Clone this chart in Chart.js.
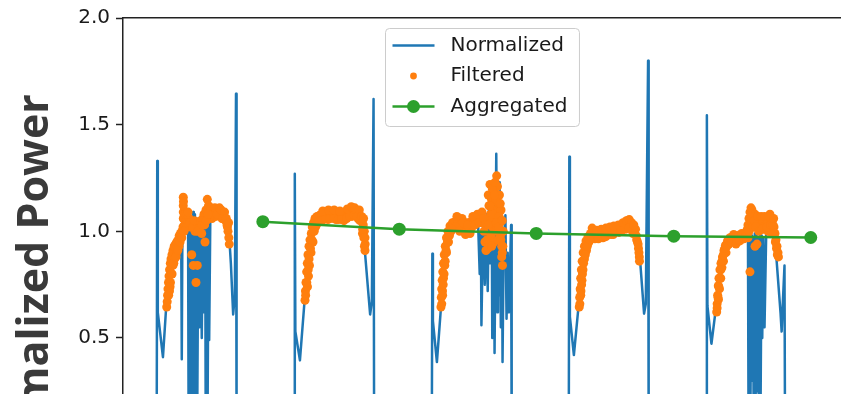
<!DOCTYPE html>
<html>
<head>
<meta charset="utf-8">
<title>Normalized Power</title>
<script src="https://cdn.jsdelivr.net/npm/chart.js@4.4.1/dist/chart.umd.min.js"></script>
<style>
  html, body { margin: 0; padding: 0; background: #fff; overflow: hidden; }
  #chart { display: block; }
</style>
</head>
<body>
<canvas id="chart" width="841" height="586"></canvas>
<script>
// Series are [hour, normalized power] pairs, one array per day.
const normalizedDay1 = [[0.0, 0.0], [5.9, 0.0], [6.0, 1.33], [6.1, 0.62], [7.0, 0.41], [7.6, 0.66], [8.2, 0.80], [8.9, 0.90], [9.6, 0.95], [10.2, 0.97], [10.3, 0.40], [10.4, 0.98], [11.0, 1.02],
  [11.4, 1.06], [11.5, 0.05], [11.7, 1.08], [11.8, 0.10], [12.0, 1.07], [12.1, 0.0], [12.3, 1.09], [12.4, 0.20], [12.6, 1.08], [12.7, 0.08], [12.9, 1.06], [13.0, 0.10], [13.2, 1.05], [13.4, 0.55], [13.6, 1.02], [13.8, 0.50], [14.0, 1.04], [14.2, 0.62], [14.4, 1.08], [14.5, 0.0], [14.7, 1.10], [14.8, 0.05], [15.0, 1.08], [15.1, 0.49], [15.3, 1.07],
  [16.0, 1.08], [17.0, 1.07], [18.0, 1.05], [18.6, 0.98], [18.9, 0.85], [19.3, 0.61], [19.6, 0.70], [19.8, 1.645], [19.9, 0.0]];
const normalizedDay2 = [[30.0, 0.0], [30.1, 1.27], [30.2, 0.53], [31.0, 0.395], [31.8, 0.67], [32.4, 0.85], [33.1, 0.98], [34.2, 1.05], [36.3, 1.07], [38.9, 1.07], [40.6, 1.08], [41.9, 1.02], [42.4, 0.90], [43.3, 0.61], [43.6, 0.67], [43.9, 1.62], [44.0, 0.0]];
const normalizedDay3 = [[54.1, 0.0], [54.2, 0.895], [54.3, 0.58], [55.0, 0.387], [55.7, 0.64], [56.4, 0.85], [56.9, 0.97], [58.1, 1.03], [59.9, 1.0], [61.1, 1.03],
  [62.2, 1.05], [62.5, 0.80], [62.7, 1.0], [62.8, 0.56], [63.1, 1.05], [63.4, 0.75], [63.7, 1.08], [63.9, 0.72], [64.1, 1.10], [64.3, 0.85], [64.6, 1.15], [64.7, 0.50], [65.0, 1.2], [65.1, 0.43], [65.4, 1.364], [65.6, 0.62], [65.7, 1.15], [65.9, 0.70], [66.0, 1.23], [66.2, 0.55], [66.4, 1.0], [66.5, 0.387], [66.7, 0.95], [67.0, 1.075], [67.2, 0.59], [67.4, 0.9], [67.6, 0.62], [68.0, 1.03], [68.1, 0.0]];
const normalizedDay4 = [[78.1, 0.0], [78.2, 1.35], [78.3, 0.60], [79.0, 0.42], [79.8, 0.645], [80.6, 0.88], [81.8, 0.98], [83.6, 0.98], [86.2, 1.0], [88.5, 1.03], [89.9, 0.98], [90.6, 0.864], [91.3, 0.614], [91.6, 0.66], [92.0, 1.80], [92.1, 0.0]];
const normalizedDay5 = [[102.2, 0.0], [102.3, 1.544], [102.4, 0.65], [103.1, 0.473], [103.8, 0.622], [104.6, 0.82], [105.6, 0.93], [107.2, 0.96], [109.0, 0.98],
  [109.5, 0.98], [109.6, 0.10], [109.8, 1.0], [109.9, 0.0], [110.1, 0.98], [110.2, 0.30], [110.4, 0.97], [110.5, 0.05], [110.7, 0.99], [110.8, 0.0], [111.0, 0.98], [111.1, 0.25], [111.3, 0.97], [111.4, 0.0], [111.6, 0.99], [111.7, 0.15], [111.9, 0.98], [112.0, 0.50], [112.2, 0.97], [112.4, 0.55], [112.7, 1.0],
  [113.4, 1.02], [114.2, 0.96], [114.5, 0.87], [115.2, 0.62], [115.4, 0.53], [115.6, 0.66], [115.9, 0.84], [116.0, 0.0], [125.8, 0.0]];

const filteredDay1 = [[7.66, 0.645], [7.74, 0.67], [7.81, 0.70], [7.88, 0.73], [7.97, 0.76], [8.06, 0.79], [8.16, 0.82], [8.29, 0.85], [8.41, 0.87], [8.58, 0.89], [8.76, 0.91], [8.97, 0.93], [9.20, 0.94], [9.43, 0.95], [9.64, 0.96], [9.85, 0.98], [10.07, 0.99], [10.30, 1.00], [10.51, 1.02],
  [10.56, 1.06], [10.56, 1.09], [10.56, 1.12], [10.56, 1.16], [10.77, 1.03], [11.04, 1.05], [11.30, 1.04], [11.56, 1.06], [11.83, 1.02], [12.04, 0.89], [12.32, 0.84], [12.61, 1.00], [12.79, 0.76], [13.02, 0.84], [13.23, 1.03], [13.49, 1.02], [13.79, 0.99], [14.02, 1.06], [14.19, 1.08], [14.37, 0.95], [14.54, 1.10], [14.77, 1.15], [14.98, 1.12],
  [15.24, 1.09], [15.59, 1.10], [15.94, 1.09], [16.29, 1.10], [16.64, 1.10], [16.99, 1.09], [17.34, 1.08], [17.70, 1.07], [17.96, 1.05], [18.22, 1.03], [18.40, 1.00], [18.54, 0.97], [18.62, 0.94],
  [8.15, 0.72], [8.32, 0.76], [8.50, 0.80], [8.76, 0.84], [9.02, 0.87], [9.37, 0.90], [9.81, 0.93], [10.86, 1.08], [11.21, 1.08], [15.59, 1.06], [16.29, 1.07], [17.34, 1.06],
  [8.0, 0.70], [8.25, 0.74], [8.6, 0.80], [8.9, 0.85], [9.3, 0.88], [9.6, 0.91], [10.0, 0.95], [10.3, 0.97],
  [15.4, 1.11], [15.8, 1.08], [16.1, 1.11], [16.5, 1.08], [16.9, 1.11], [17.2, 1.10], [17.5, 1.06], [17.8, 1.09], [18.1, 1.06], [18.3, 1.02], [18.5, 1.04],
  [11.1, 1.02], [11.4, 1.09], [11.7, 1.04], [12.2, 1.02], [12.5, 1.05], [13.1, 1.00], [13.6, 1.05], [13.9, 1.03], [14.3, 1.03], [14.6, 1.05], [14.9, 1.08], [10.7, 1.0], [10.6, 1.14]];
const filteredDay2 = [[31.89, 0.677], [31.97, 0.72], [32.06, 0.76], [32.18, 0.81], [32.29, 0.85], [32.41, 0.89], [32.59, 0.93], [32.76, 0.96], [32.99, 0.99], [33.16, 1.02], [33.38, 1.04], [33.64, 1.06], [33.99, 1.07], [34.43, 1.075], [34.86, 1.08], [35.39, 1.083], [35.92, 1.085], [36.44, 1.083], [36.97, 1.085], [37.49, 1.08],
  [38.02, 1.078], [38.54, 1.075], [39.07, 1.085], [39.51, 1.095], [39.95, 1.10], [40.38, 1.098], [40.82, 1.092], [41.26, 1.085], [41.61, 1.07], [41.87, 1.05], [42.10, 1.03], [42.28, 1.00], [42.40, 0.97], [42.43, 0.94], [42.40, 0.91],
  [32.32, 0.74], [32.50, 0.79], [32.67, 0.84], [32.94, 0.90], [33.29, 0.95], [33.73, 1.02], [34.51, 1.05], [35.92, 1.055], [37.32, 1.055], [38.72, 1.05], [40.12, 1.07], [41.17, 1.06], [41.96, 0.99],
  [32.0, 0.70], [32.2, 0.76], [32.45, 0.82], [32.6, 0.87], [32.85, 0.92], [33.1, 0.96], [33.5, 1.00], [33.9, 1.03],
  [34.9, 1.05], [35.6, 1.06], [36.3, 1.06], [37.0, 1.06], [37.7, 1.055], [38.3, 1.055], [39.2, 1.06], [39.7, 1.07], [40.5, 1.075], [41.0, 1.07], [41.5, 1.05],
  [35.0, 1.095], [36.0, 1.10], [37.0, 1.10], [38.0, 1.095], [39.3, 1.105], [40.0, 1.115], [40.6, 1.11], [41.4, 1.10],
  [41.8, 1.07], [42.15, 1.06], [42.2, 0.97], [42.3, 0.93], [42.0, 1.01]];
const filteredDay3 = [[55.71, 0.645], [55.77, 0.69], [55.84, 0.73], [55.92, 0.77], [56.03, 0.81], [56.15, 0.85], [56.29, 0.89], [56.47, 0.93], [56.68, 0.97], [56.94, 1.00], [57.29, 1.025], [57.73, 1.04], [58.17, 1.045], [58.69, 1.045], [59.22, 1.035], [59.74, 1.02], [60.22, 1.00], [60.62, 1.02], [60.97, 1.045], [61.41, 1.05], [61.85, 1.06], [62.28, 1.07], [62.72, 1.06],
  [63.07, 1.04], [63.25, 1.00], [63.42, 0.95], [63.60, 0.91], [63.77, 0.96], [64.00, 1.17], [64.12, 1.12], [64.30, 1.22], [64.39, 1.08], [64.56, 1.15], [64.74, 1.02], [64.91, 1.19], [65.09, 1.10], [65.26, 1.06], [65.47, 1.26], [65.61, 1.21], [65.79, 1.13], [65.96, 1.17], [66.05, 1.04], [66.14, 0.98], [66.23, 1.10], [66.35, 0.93], [66.45, 0.90], [66.35, 0.88], [66.49, 0.84], [66.63, 1.00], [63.95, 0.92], [64.47, 0.98], [65.00, 0.95],
  [55.98, 0.72], [56.15, 0.78], [56.38, 0.84], [56.68, 0.90], [57.03, 0.95], [57.47, 1.00], [58.34, 1.02], [59.39, 1.06], [60.27, 1.04], [61.14, 1.02], [62.02, 1.04], [62.55, 1.08],
  [64.2, 1.05], [64.8, 1.08], [65.3, 1.14], [65.5, 1.00], [65.9, 1.07], [66.3, 1.05], [64.6, 0.93], [65.7, 0.96],
  [55.85, 0.66], [56.0, 0.70], [56.1, 0.75], [56.25, 0.80], [56.45, 0.86], [56.6, 0.91], [56.85, 0.95], [57.2, 0.98], [57.6, 1.01],
  [58.5, 1.07], [59.0, 1.00], [59.6, 1.04], [60.0, 0.985], [60.4, 1.03], [60.8, 0.99], [61.3, 1.07], [61.7, 1.03], [62.1, 1.08], [62.4, 1.04], [62.9, 1.09], [63.2, 1.06],
  [63.5, 1.03], [64.0, 1.03], [64.3, 1.12], [64.7, 1.20], [65.1, 1.17], [65.2, 1.23], [65.4, 1.04], [65.8, 1.02], [66.1, 1.13], [66.2, 0.96], [66.45, 1.05], [66.55, 0.93]];
const filteredDay4 = [[79.94, 0.645], [80.01, 0.69], [80.10, 0.73], [80.19, 0.78], [80.31, 0.82], [80.45, 0.86], [80.63, 0.90], [80.85, 0.93], [81.12, 0.955], [81.47, 0.975], [81.91, 0.99], [82.43, 0.995], [83.04, 0.99], [83.66, 0.99], [84.27, 1.0], [84.88, 1.005], [85.50, 1.01], [86.11, 1.015], [86.72, 1.02], [87.34, 1.025], [87.95, 1.035],
  [88.39, 1.05], [88.83, 1.04], [89.26, 1.02], [89.61, 1.00], [89.93, 0.98], [90.14, 0.95], [90.32, 0.92], [90.46, 0.88], [90.49, 0.86],
  [80.24, 0.72], [80.42, 0.77], [80.59, 0.82], [80.85, 0.87], [81.21, 0.91], [81.64, 0.95], [82.69, 0.965], [84.10, 0.97], [85.50, 0.985], [86.90, 0.995], [88.13, 1.01], [89.35, 0.99],
  [80.05, 0.66], [80.2, 0.70], [80.35, 0.75], [80.5, 0.80], [80.7, 0.85], [81.0, 0.89], [81.35, 0.93], [81.8, 0.96], [82.2, 1.015],
  [83.0, 1.005], [83.8, 1.01], [84.6, 1.015], [85.3, 1.02], [86.0, 1.025], [86.8, 1.03], [87.6, 1.04], [88.2, 1.05], [88.7, 1.055], [89.1, 1.04],
  [83.3, 0.965], [84.6, 0.975], [85.9, 0.985], [87.3, 1.0], [88.6, 1.015],
  [89.8, 1.01], [90.0, 0.96], [90.25, 0.94], [90.4, 0.90], [89.5, 1.03]];
const filteredDay5 = [[104.02, 0.622], [104.10, 0.66], [104.19, 0.70], [104.30, 0.745], [104.42, 0.78], [104.59, 0.82], [104.77, 0.85], [105.03, 0.88], [105.30, 0.91], [105.56, 0.935], [105.91, 0.955], [106.35, 0.97], [106.78, 0.975], [107.22, 0.96], [107.57, 0.95], [107.92, 0.965], [108.27, 0.975], [108.62, 0.98], [108.97, 0.99],
  [109.24, 1.00], [109.50, 1.03], [109.68, 1.06], [109.85, 1.09], [110.03, 1.11], [110.20, 1.10], [110.46, 1.07], [110.73, 1.08], [110.99, 1.06], [111.25, 1.04], [111.60, 1.03], [111.95, 1.04], [112.30, 1.045], [112.65, 1.05], [113.00, 1.045], [113.35, 1.06], [113.70, 1.05],
  [114.06, 1.02], [114.23, 0.99], [114.41, 0.96], [114.58, 0.93], [114.76, 0.90], [114.84, 0.88], [109.85, 0.81], [110.73, 0.93], [111.08, 0.94],
  [104.33, 0.68], [104.51, 0.73], [104.73, 0.78], [104.94, 0.83], [105.21, 0.86], [105.65, 0.90], [106.17, 0.94], [109.50, 0.97], [110.20, 1.04], [111.60, 1.06], [112.13, 1.01], [113.00, 1.00], [113.35, 1.08], [113.70, 0.99],
  [104.1, 0.64], [104.25, 0.69], [104.4, 0.74], [104.55, 0.78], [104.75, 0.82], [104.95, 0.86], [105.2, 0.89], [105.45, 0.92], [105.8, 0.93], [106.1, 0.96], [106.6, 0.95], [107.0, 0.985], [107.4, 0.94], [107.8, 0.98], [108.1, 0.955], [108.4, 0.99], [108.8, 0.965], [109.1, 0.975],
  [109.4, 1.01], [109.7, 1.0], [110.0, 1.05], [110.1, 1.07], [110.4, 1.02], [110.6, 1.05], [110.9, 1.02], [111.2, 1.07], [111.4, 1.0], [111.8, 1.07], [112.0, 1.01], [112.4, 1.07], [112.8, 1.02], [113.2, 1.07], [113.5, 1.03], [113.9, 1.03], [114.1, 0.99], [114.3, 0.95], [114.5, 0.92], [114.65, 0.89], [114.0, 1.06]];

const aggregatedHours = [24.5, 48.4, 72.4, 96.5, 120.5];
const aggregatedValues = [1.045, 1.010, 0.990, 0.977, 0.971];

const seriesLabels = ['Normalized', 'Filtered', 'Aggregated'];
const axisTitle = 'Normalized Power';

(function () {
  'use strict';

  const COLORS = {
    normalized: '#1f77b4',
    filtered: '#ff7f0e',
    aggregated: '#2ca02c',
    axis: '#222222',
    text: '#1a1a1a'
  };

  const toPoints = function (pairs) {
    return pairs.map(function (p) { return { x: p[0], y: p[1] }; });
  };

  /**
   * Matplotlib-style legend: framed box centred at the top of the plot area.
   */
  const boxLegend = {
    id: 'boxLegend',
    afterDraw: function (chart, args, opts) {
      const ctx = chart.ctx;
      const area = chart.chartArea;
      const datasets = chart.data.datasets;

      ctx.save();
      ctx.font = opts.fontSize + 'px ' + opts.fontFamily;
      let textWidth = 0;
      datasets.forEach(function (ds) {
        textWidth = Math.max(textWidth, ctx.measureText(ds.label).width);
      });

      const width = opts.padLeft + opts.handle + opts.gap + textWidth + opts.padRight;
      const height = opts.firstRow + (datasets.length - 1) * opts.rowHeight + opts.lastGap;
      const left = Math.round(area.left + (area.right - area.left - width) / 2) + 0.5;
      const top = area.top + opts.offsetTop + 0.5;
      const r = 4;

      // Frame.
      ctx.beginPath();
      ctx.moveTo(left + r, top);
      ctx.arcTo(left + width, top, left + width, top + height, r);
      ctx.arcTo(left + width, top + height, left, top + height, r);
      ctx.arcTo(left, top + height, left, top, r);
      ctx.arcTo(left, top, left + width, top, r);
      ctx.closePath();
      ctx.fillStyle = 'rgba(255, 255, 255, 0.8)';
      ctx.fill();
      ctx.strokeStyle = '#cccccc';
      ctx.lineWidth = 1;
      ctx.stroke();

      // Entries.
      datasets.forEach(function (ds, i) {
        const y = top + opts.firstRow + i * opts.rowHeight;
        const hx = left + opts.padLeft;

        if (ds.showLine !== false) {
          ctx.beginPath();
          ctx.moveTo(hx, y);
          ctx.lineTo(hx + opts.handle, y);
          ctx.strokeStyle = ds.borderColor;
          ctx.lineWidth = ds.borderWidth;
          ctx.stroke();
        }
        if (ds.pointRadius > 0) {
          ctx.beginPath();
          ctx.arc(hx + opts.handle / 2, y, ds.legendRadius || ds.pointRadius, 0, Math.PI * 2);
          ctx.fillStyle = ds.pointBackgroundColor;
          ctx.fill();
        }

        ctx.fillStyle = COLORS.text;
        ctx.textAlign = 'left';
        ctx.textBaseline = 'middle';
        ctx.fillText(ds.label, hx + opts.handle + opts.gap, y);
      });
      ctx.restore();
    }
  };

  const normalized = [].concat(normalizedDay1, normalizedDay2, normalizedDay3, normalizedDay4, normalizedDay5);
  const filtered = [].concat(filteredDay1, filteredDay2, filteredDay3, filteredDay4, filteredDay5);
  const aggregated = aggregatedHours.map(function (h, i) { return [h, aggregatedValues[i]]; });

  const tickFont = { family: "'DejaVu Sans', sans-serif", size: 20 };

  new Chart(document.getElementById('chart'), {
    type: 'line',
    data: {
      datasets: [
        {
          label: seriesLabels[0],
          data: toPoints(normalized),
          borderColor: COLORS.normalized,
          borderWidth: 2.5,
          borderJoinStyle: 'round',
          borderCapStyle: 'round',
          pointRadius: 0,
          tension: 0,
          order: 3
        },
        {
          label: seriesLabels[1],
          data: toPoints(filtered),
          showLine: false,
          pointRadius: 4.5,
          legendRadius: 3.4,
          pointBorderWidth: 0,
          pointBackgroundColor: COLORS.filtered,
          borderColor: COLORS.filtered,
          order: 2
        },
        {
          label: seriesLabels[2],
          data: toPoints(aggregated),
          borderColor: COLORS.aggregated,
          borderWidth: 2.5,
          pointRadius: 6.5,
          pointBorderWidth: 0,
          pointBackgroundColor: COLORS.aggregated,
          tension: 0,
          order: 1
        }
      ]
    },
    options: {
      responsive: false,
      animation: false,
      events: [],
      layout: {
        autoPadding: false,
        padding: { top: 18, right: 0, bottom: 20, left: 0 }
      },
      plugins: {
        legend: { display: false },
        tooltip: { enabled: false },
        boxLegend: {
          fontSize: 20,
          fontFamily: "'DejaVu Sans', sans-serif",
          offsetTop: 10,
          padLeft: 7,
          handle: 42,
          gap: 16,
          padRight: 12,
          firstRow: 17,
          rowHeight: 30.5,
          lastGap: 20
        }
      },
      scales: {
        x: {
          type: 'linear',
          position: 'top',
          min: 0,
          max: 125.8,
          ticks: { display: false },
          grid: { display: false, drawTicks: false },
          border: { display: true, color: COLORS.axis, width: 1.5 },
          afterFit: function (scale) { scale.height = 0; }
        },
        y: {
          min: -0.569,
          max: 2.0,
          ticks: {
            stepSize: 0.5,
            padding: 6,
            color: COLORS.text,
            font: tickFont,
            callback: function (value) { return value.toFixed(1); }
          },
          grid: {
            display: true,
            drawOnChartArea: false,
            drawTicks: true,
            tickLength: 7,
            tickWidth: 1.5,
            tickColor: COLORS.axis
          },
          border: { display: true, color: COLORS.axis, width: 1.5 },
          title: {
            display: true,
            text: axisTitle,
            color: '#3a3a3a',
            font: { family: "'Open Sans', sans-serif", size: 43, weight: 'bold' },
            padding: { top: 10, bottom: 0 }
          },
          afterFit: function (scale) { scale.width = 123; }
        }
      }
    },
    plugins: [boxLegend]
  });
})();
</script>
</body>
</html>
